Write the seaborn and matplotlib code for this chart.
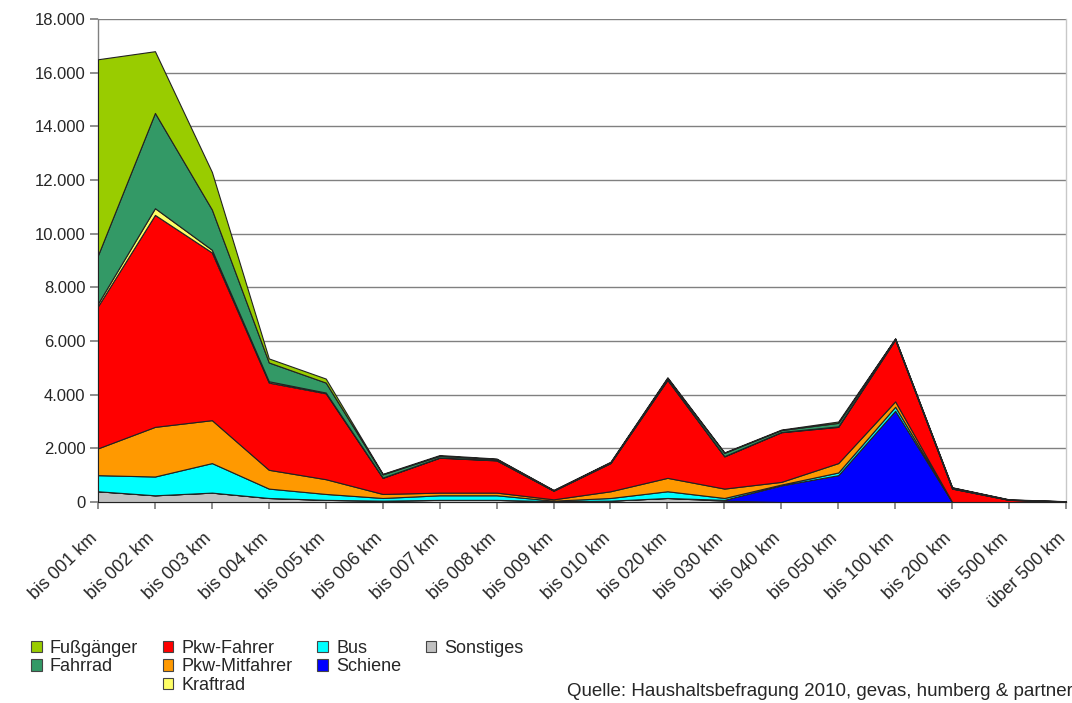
""" Wegelängen nach Verkehrsmittel - gestapeltes Flächendiagramm """

from matplotlib import pyplot as plt
from matplotlib.patches import Patch
from matplotlib.ticker import FuncFormatter
from matplotlib import transforms
import seaborn as sns
import numpy as np

# Kategorien (Entfernungsklassen)
klassen = ["bis 001 km", "bis 002 km", "bis 003 km", "bis 004 km", "bis 005 km",
           "bis 006 km", "bis 007 km", "bis 008 km", "bis 009 km", "bis 010 km",
           "bis 020 km", "bis 030 km", "bis 040 km", "bis 050 km", "bis 100 km",
           "bis 200 km", "bis 500 km", "über 500 km"]

# Wege je Verkehrsmittel (von unten nach oben gestapelt)
sonstiges = [400, 250, 350, 150, 80, 50, 80, 80, 30, 50, 150, 50, 0, 0, 0, 0, 0, 0]
schiene = [0, 0, 0, 0, 0, 0, 0, 0, 0, 0, 0, 30, 620, 1000, 3400, 0, 0, 0]
bus = [600, 700, 1100, 350, 220, 100, 170, 170, 20, 100, 250, 70, 30, 100, 150, 0, 0, 0]
pkw_mitfahrer = [1000, 1850, 1600, 700, 550, 150, 100, 100, 50, 250, 500, 350, 100, 350, 200, 0, 0, 0]
pkw_fahrer = [5300, 7900, 6250, 3250, 3200, 600, 1300, 1200, 320, 1050, 3650, 1200, 1850, 1350, 2300, 500, 80, 20]
kraftrad = [100, 250, 100, 50, 30, 10, 10, 10, 5, 10, 20, 10, 10, 20, 20, 5, 0, 0]
fahrrad = [1800, 3550, 1500, 700, 370, 120, 60, 40, 15, 20, 50, 120, 70, 130, 20, 35, 10, 5]
fussgaenger = [7300, 2300, 1400, 150, 150, 20, 30, 20, 10, 20, 30, 20, 20, 50, 10, 10, 10, 5]

namen = ["Sonstiges", "Schiene", "Bus", "Pkw-Mitfahrer", "Pkw-Fahrer",
         "Kraftrad", "Fahrrad", "Fußgänger"]
farben = {"Sonstiges": "#C0C0C0", "Schiene": "#0000FF", "Bus": "#00FFFF",
          "Pkw-Mitfahrer": "#FF9900", "Pkw-Fahrer": "#FF0000",
          "Kraftrad": "#FFFF66", "Fahrrad": "#339966", "Fußgänger": "#99CC00"}

sns.set_theme(style="white")
plt.rcParams['font.family'] = ['Liberation Sans', 'DejaVu Sans']

fig = plt.figure(figsize=(10.72, 7.03), dpi=100)
ax = fig.add_axes([98 / 1072, 1 - 502 / 703, (1066 - 98) / 1072, (502 - 19) / 703])

x = np.arange(len(klassen))
werte = [sonstiges, schiene, bus, pkw_mitfahrer, pkw_fahrer, kraftrad, fahrrad, fussgaenger]
ax.stackplot(x, *werte, colors=[farben[n] for n in namen],
             edgecolor="#222222", linewidth=0.8, zorder=3)

ax.set_xlim(0, len(klassen) - 1)
ax.set_ylim(0, 18000)
ax.set_yticks(np.arange(0, 18001, 2000))
ax.yaxis.set_major_formatter(FuncFormatter(lambda v, p: f"{int(v):,}".replace(",", ".")))
ax.grid(axis="y", color="#808080", linewidth=1, zorder=0)
ax.grid(axis="x", visible=False)

ax.set_xticks(x)
ax.set_xticklabels(klassen, rotation=44, ha="right", rotation_mode="anchor", fontsize=13)
ax.tick_params(axis="y", labelsize=12, left=True, length=6, color="#808080", pad=3)
ax.tick_params(axis="x", bottom=True, length=5, color="#808080", pad=15)

# Beschriftungen leicht nach links versetzen
versatz = transforms.ScaledTranslation(-0.09, 0, fig.dpi_scale_trans)
for lbl in ax.get_xticklabels():
    lbl.set_transform(lbl.get_transform() + versatz)

for side in ["left", "bottom", "right"]:
    ax.spines[side].set_color("#808080")
    ax.spines[side].set_linewidth(1)
ax.spines["top"].set_visible(False)
ax.spines["right"].set_color("#C8C8C8")

# Legende: Reihenfolge wie im Original (spaltenweise)
def eintrag(n):
    return Patch(facecolor=farben[n], edgecolor="#444444", linewidth=0.8, label=n)

leer = Patch(facecolor="none", edgecolor="none", label=" ")
handles = [eintrag("Fußgänger"), eintrag("Fahrrad"), leer,
           eintrag("Pkw-Fahrer"), eintrag("Pkw-Mitfahrer"), eintrag("Kraftrad"),
           eintrag("Bus"), eintrag("Schiene"), leer,
           eintrag("Sonstiges"), leer, leer]
fig.legend(handles=handles, labels=[h.get_label() for h in handles], ncol=4,
           loc="upper left", bbox_to_anchor=(22 / 1072, 1 - 631 / 703),
           frameon=False, fontsize=13, handlelength=0.6, handleheight=0.6,
           handletextpad=0.45, columnspacing=1.35, labelspacing=0.08, borderpad=0)

fig.text(567 / 1072, 1 - 692 / 703,
         "Quelle: Haushaltsbefragung 2010, gevas, humberg & partner",
         fontsize=13.5, va="center", ha="left")

plt.savefig("out.png", dpi=100)
